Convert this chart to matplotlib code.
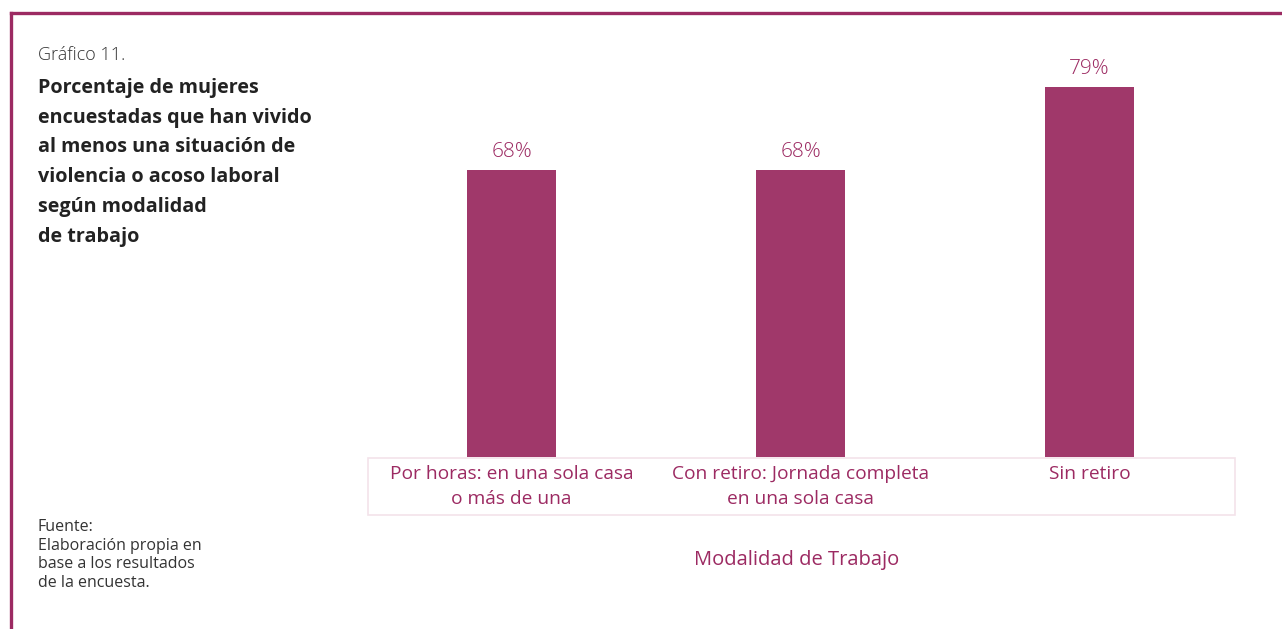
import matplotlib.pyplot as plt
from matplotlib.patches import Rectangle
from matplotlib.lines import Line2D

# data
categorias = ['Por horas: en una sola casa\no más de una',
              'Con retiro: Jornada completa\nen una sola casa',
              'Sin retiro']
porcentajes = [68, 68, 79]
etiquetas = ['68%', '68%', '79%']

magenta = '#9c2a62'
barra = '#a0386a'

plt.rcParams['font.family'] = ['Open Sans', 'DejaVu Sans']

fig = plt.figure(figsize=(12.82, 6.29), dpi=100)

# frame lines (top and left)
fig.add_artist(Line2D([0.0085, 1.0], [0.979, 0.979], color=magenta, lw=2.4))
fig.add_artist(Line2D([0.0085, 0.0085], [0.0, 0.979], color=magenta, lw=2.4))

# faint box round the category labels
fig.add_artist(Rectangle((0.287, 0.182), 0.676, 0.09, fill=False,
                         edgecolor='#f3e3ea', lw=1.2))

ax = fig.add_axes([0.2863, 0.2735, 0.6764, 0.66])
x = range(len(categorias))
bars = ax.bar(x, porcentajes, width=0.31, color=barra)
ax.set_xlim(-0.5, 2.5)
ax.set_ylim(30, 85)
for b, t in zip(bars, etiquetas):
    ax.text(b.get_x() + b.get_width() / 2, b.get_height() + 1.1, t,
            ha='center', va='bottom', color=magenta, fontsize=15,
            fontweight='light')

ax.set_xticks(list(x))
ax.set_xticklabels(categorias, color=magenta, fontsize=13.8, linespacing=1.45)
ax.tick_params(axis='x', length=0, pad=6)
ax.set_yticks([])
for s in ax.spines.values():
    s.set_visible(False)

fig.text(0.6215, 0.109, 'Modalidad de Trabajo', ha='center', va='center',
         color=magenta, fontsize=14.5)

fig.text(0.0295, 0.912, 'Gráfico 11.', ha='left', va='center',
         color='#333333', fontsize=13, fontweight='light')
fig.text(0.0295, 0.876,
         'Porcentaje de mujeres\nencuestadas que han vivido\nal menos una situación de\n'
         'violencia o acoso laboral\nsegún modalidad\nde trabajo',
         ha='left', va='top', color='#222222', fontsize=14.2, fontweight='bold',
         linespacing=1.65)
fig.text(0.0295, 0.175, 'Fuente:\nElaboración propia en\nbase a los resultados\nde la encuesta.',
         ha='left', va='top', color='#333333', fontsize=11.5, linespacing=1.22)

fig.savefig('out.png', dpi=100)
